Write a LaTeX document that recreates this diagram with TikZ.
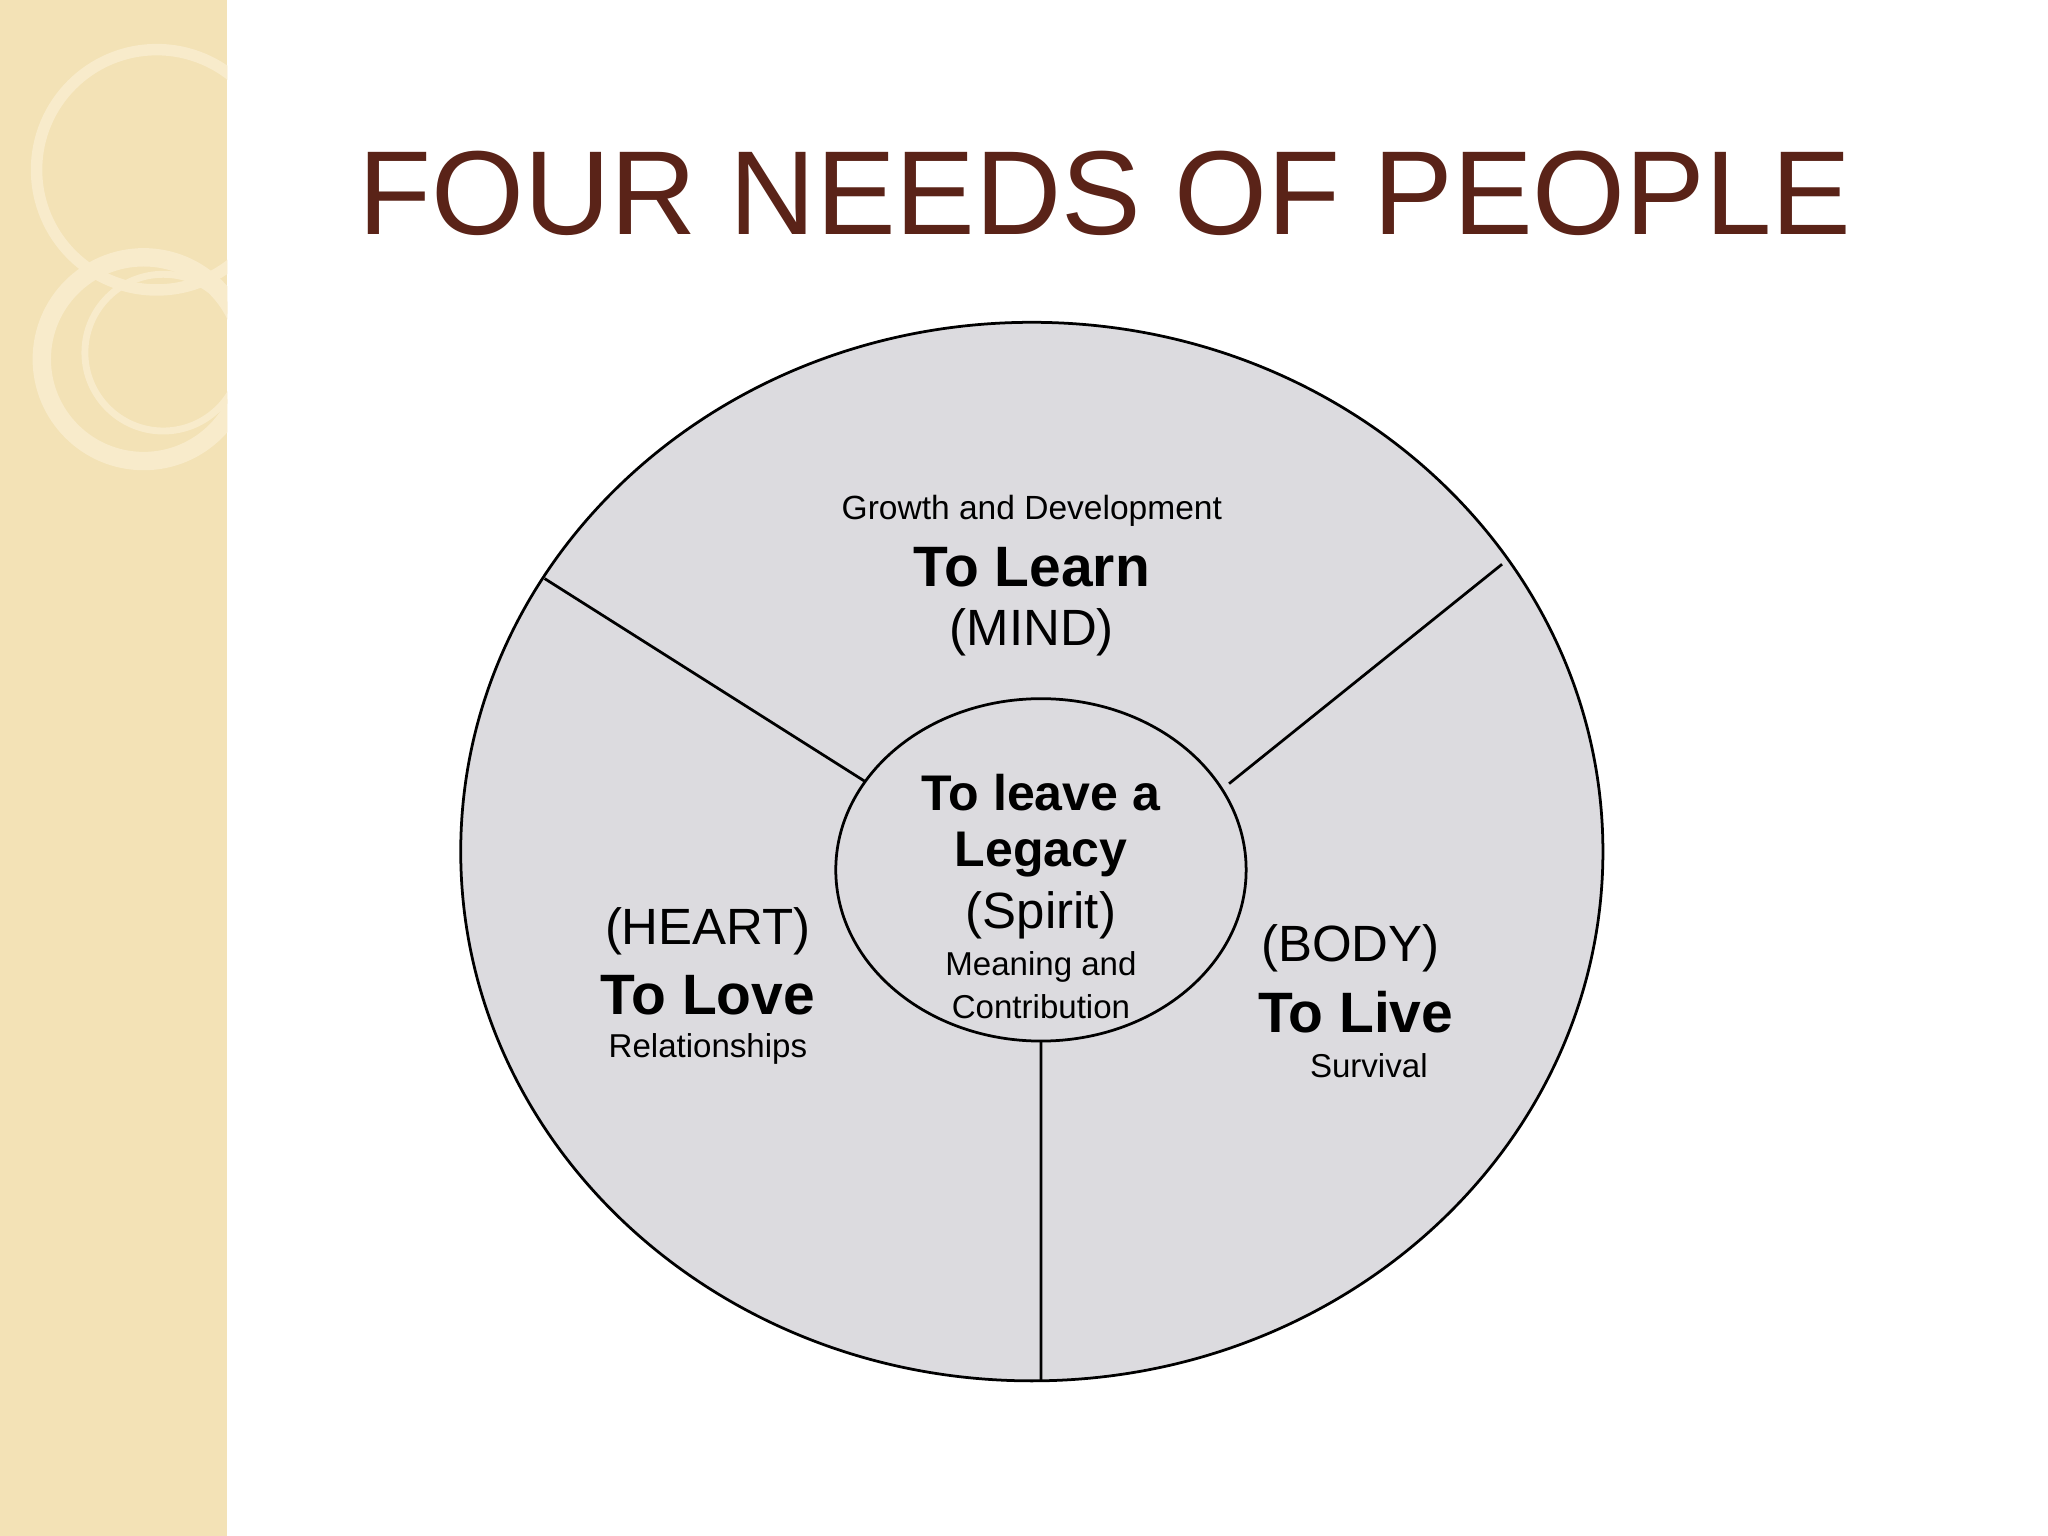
\documentclass[tikz,border=0pt]{standalone}
\usetikzlibrary{shapes.geometric}
\usepackage{fontspec}
\setmainfont{Liberation Sans}
\definecolor{strip}{HTML}{F3E2B6}
\definecolor{ring}{HTML}{F8EBCB}
\definecolor{title}{HTML}{5A2318}
\definecolor{pie}{HTML}{DCDBDF}
\tikzset{lbl/.style={align=center,inner sep=0pt,font=\fontsize{#1}{#1}\selectfont}}
\begin{document}
\begin{tikzpicture}[x=0.01cm,y=-0.01cm]
\useasboundingbox (0,0) rectangle (1568,1176);
\fill[white] (0,0) rectangle (1568,1176);
\fill[strip] (0,0) rectangle (174,1176);
\begin{scope}
\clip (0,0) rectangle (174,1176);
\draw[ring,line width=2.5pt] (120,130) circle (92);
\draw[ring,line width=4pt] (110,275) circle (78);
\draw[ring,line width=1.5pt] (125,270) circle (60);
\end{scope}
\node[lbl=26,text=title] (t) at (846,148) {FOUR NEEDS OF PEOPLE};
\node[draw,fill=pie,ellipse,inner sep=0pt,minimum width=8.74cm,minimum height=8.1cm,line width=0.6pt] (big) at (790,652) {};
\coordinate (a1) at (417,443); \coordinate (a2) at (665,600);
\coordinate (b1) at (1150,432); \coordinate (b2) at (941,600);
\coordinate (c1) at (797,797); \coordinate (c2) at (797,1057);
\draw[line width=0.6pt] (a1)--(a2) (b1)--(b2) (c1)--(c2);
\node[draw,fill=pie,ellipse,inner sep=0pt,minimum width=3.14cm,minimum height=2.62cm,line width=0.6pt] (mid) at (797,666) {};
\node[lbl=7.3] (g) at (790,391) {Growth and Development};
\node[lbl=12.4] (l) at (790,434) {\bfseries To Learn};
\node[lbl=11.1] (m) at (790,484) {(MIND)};
\node[lbl=10.9] (s1) at (797,607) {\bfseries To leave a};
\node[lbl=10.9] (s2) at (797,654) {\bfseries Legacy};
\node[lbl=11.1] (s3) at (797,701) {(Spirit)};
\node[lbl=7.2] (s4) at (797,740) {Meaning and};
\node[lbl=7.2] (s5) at (797,771) {Contribution};
\node[lbl=11.1] (h1) at (542,713) {(HEART)};
\node[lbl=12.4] (h2) at (542,762) {\bfseries To Love};
\node[lbl=7.2] (h3) at (542,803) {Relationships};
\node[lbl=11.1] (b1t) at (1034,726) {(BODY)};
\node[lbl=12.4] (b2t) at (1038,775) {\bfseries To Live};
\node[lbl=7.2] (b3t) at (1048,816) {Survival};
\end{tikzpicture}
\end{document}
